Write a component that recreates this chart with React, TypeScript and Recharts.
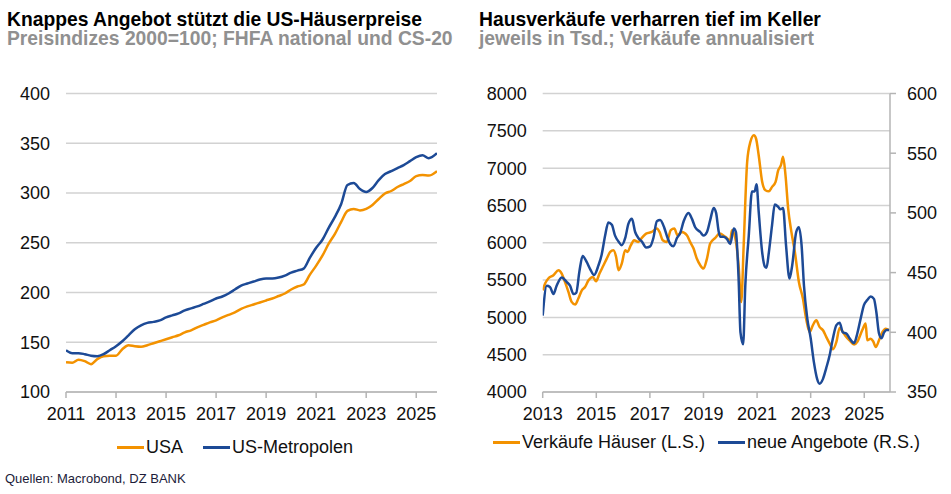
import React from "react";
import { LineChart, Line, XAxis, YAxis, CartesianGrid } from "recharts";

const FONT = "Arial, 'Liberation Sans', sans-serif";
const ORANGE = "#F39200";
const BLUE = "#1D4A96";
const GRID = "#d2d2d2";
const AXIS = "#b4b4b4";

// --- left chart: price indices (quarterly, 2000=100) ---
const priceDates = [
  2011, 2011.25, 2011.5, 2011.75, 2012, 2012.25, 2012.5, 2012.75,
  2013, 2013.25, 2013.5, 2013.75, 2014, 2014.25, 2014.5, 2014.75,
  2015, 2015.25, 2015.5, 2015.75, 2016, 2016.25, 2016.5, 2016.75,
  2017, 2017.25, 2017.5, 2017.75, 2018, 2018.25, 2018.5, 2018.75,
  2019, 2019.25, 2019.5, 2019.75, 2020, 2020.25, 2020.5, 2020.75,
  2021, 2021.25, 2021.5, 2021.75, 2022, 2022.25, 2022.5, 2022.75,
  2023, 2023.25, 2023.5, 2023.75, 2024, 2024.25, 2024.5, 2024.75,
  2025, 2025.25, 2025.5, 2025.83,
];
const usa = [
  130, 129.5, 132.5, 131, 128, 133, 136, 136.5,
  136.5, 143, 147, 146, 145.5, 147, 149, 151,
  153, 155, 157, 160, 162, 165, 167.5, 170,
  172, 175, 177.5, 180, 183.5, 186, 188, 190,
  192, 194, 196.5, 199, 203, 206, 208, 218,
  227, 237, 249, 259, 271, 282, 284, 282.5,
  284, 288, 294, 299.5, 302, 306, 309, 312,
  317, 318, 317.5, 322,
];
const metro = [
  142, 139, 139, 138, 136.5, 136, 138, 142,
  146, 151, 157, 163, 167, 169.5, 170.5, 172,
  175, 177, 179, 182, 184, 186, 188.5, 191,
  194, 196, 199, 203, 207, 209, 211, 213,
  214, 214, 215, 217, 220, 222, 224, 235,
  245, 253, 265, 276, 289, 308, 310, 304,
  301, 305, 313, 319, 322, 325, 328, 332,
  336, 338, 335, 340,
];
const priceXTicks = [2011, 2013, 2015, 2017, 2019, 2021, 2023, 2025];
const priceYTicks = [100, 150, 200, 250, 300, 350, 400];

// --- right chart: home sales (L.S.) and new listings (R.S.) ---
const salesDates = [
  2013.0, 2013.09, 2013.21, 2013.4, 2013.59, 2013.71, 2013.83, 2013.96,
  2014.08, 2014.21, 2014.33, 2014.46, 2014.58, 2014.71, 2014.87, 2014.99,
  2015.12, 2015.27, 2015.39, 2015.52, 2015.64, 2015.74, 2015.83, 2015.95,
  2016.08, 2016.16, 2016.29, 2016.41, 2016.57, 2016.7, 2016.86,
  2017.07, 2017.26, 2017.36, 2017.48, 2017.63, 2017.78, 2017.91,
  2018.03, 2018.19, 2018.38, 2018.5, 2018.63, 2018.75, 2018.88,
  2019.0, 2019.13, 2019.25, 2019.44, 2019.6, 2019.82,
  2020.0, 2020.06, 2020.19, 2020.31, 2020.41, 2020.5, 2020.63, 2020.75, 2020.88, 2020.96,
  2021.06, 2021.19, 2021.31, 2021.44, 2021.56, 2021.69, 2021.79, 2021.89, 2021.97,
  2022.06, 2022.16, 2022.28, 2022.41, 2022.56, 2022.71, 2022.83, 2022.96,
  2023.08, 2023.21, 2023.33, 2023.46, 2023.58, 2023.71, 2023.83, 2023.96,
  2024.08, 2024.2, 2024.33, 2024.45, 2024.62, 2024.74, 2024.87, 2024.95,
  2025.05, 2025.11, 2025.24, 2025.33, 2025.43, 2025.55, 2025.68, 2025.8, 2025.93,
];
const sales = [
  5363, 5453, 5520, 5564, 5631, 5587, 5475, 5341,
  5207, 5171, 5252, 5363, 5408, 5497, 5542, 5484,
  5587, 5698, 5788, 5877, 5900, 5810, 5631, 5721,
  5900, 5877, 5967, 6034, 6011, 6065, 6123,
  6145, 6190, 6145, 6034, 6011, 6168, 6190,
  6101, 6145, 6101, 6011, 5922, 5788, 5698,
  5654, 5788, 5989, 6065, 6123, 6078,
  6034, 6168, 6056, 5698, 5207, 5967, 7084, 7352, 7441, 7397,
  7173, 6816, 6704, 6690, 6749, 6816, 6972, 7039, 7151,
  6905, 6458, 6145, 5877, 5475, 5252, 4983, 4805,
  4894, 4961, 4872, 4827, 4738, 4648, 4572, 4671,
  4858, 4805, 4738, 4693, 4635, 4671, 4782, 4849,
  4917, 4693, 4715, 4680, 4604, 4693, 4805, 4849, 4827,
];
const listingDates = [
  2013.0, 2013.15, 2013.27, 2013.4, 2013.52, 2013.71, 2013.9,
  2014.02, 2014.15, 2014.25, 2014.37, 2014.49, 2014.64, 2014.77, 2014.92,
  2015.08, 2015.2, 2015.33, 2015.45, 2015.58, 2015.7, 2015.83, 2015.95,
  2016.08, 2016.2, 2016.33, 2016.45, 2016.57, 2016.7, 2016.86,
  2017.01, 2017.13, 2017.26, 2017.38, 2017.53, 2017.63, 2017.76, 2017.88,
  2018.01, 2018.13, 2018.26, 2018.44, 2018.57, 2018.69, 2018.88,
  2019.0, 2019.13, 2019.25, 2019.38, 2019.47, 2019.57, 2019.63, 2019.75, 2019.88,
  2020.0, 2020.13, 2020.21, 2020.31, 2020.38, 2020.48, 2020.56, 2020.69, 2020.81, 2020.91, 2020.98,
  2021.06, 2021.19, 2021.29, 2021.35, 2021.44, 2021.56, 2021.66, 2021.79, 2021.87, 2021.97,
  2022.08, 2022.21, 2022.31, 2022.46, 2022.56, 2022.66, 2022.75, 2022.87,
  2023.0, 2023.12, 2023.24, 2023.33, 2023.46, 2023.58, 2023.71, 2023.83, 2023.96,
  2024.08, 2024.2, 2024.33, 2024.45, 2024.62, 2024.74, 2024.87, 2024.99,
  2025.11, 2025.24, 2025.36, 2025.45, 2025.55, 2025.64, 2025.74, 2025.83, 2025.93,
];
const listings = [
  414, 439, 438, 432, 439, 446, 442,
  439, 432, 433, 451, 464, 459, 453, 448,
  456, 465, 481, 492, 490, 481, 476, 473,
  479, 491, 495, 484, 479, 476, 471,
  472, 479, 493, 494, 488, 481, 474, 472,
  479, 483, 493, 500, 495, 488, 484,
  481, 484, 494, 504, 500, 484, 480, 480, 478,
  474, 487, 484, 445, 400, 390, 439, 481, 518, 518, 524,
  501, 467, 455, 454, 467, 490, 507, 505, 503, 504,
  473, 445, 456, 484, 488, 473, 439, 412,
  395, 375, 361, 357, 361, 370, 381, 395, 406,
  408, 400, 399, 395, 391, 399, 412, 423,
  427, 430, 428, 417, 399, 395, 400, 402, 402,
];
const salesXTicks = [2013, 2015, 2017, 2019, 2021, 2023, 2025];
const salesYTicks = [4000, 4500, 5000, 5500, 6000, 6500, 7000, 7500, 8000];
const listingYTicks = [350, 400, 450, 500, 550, 600];

const priceData = priceDates.map((t, i) => ({ t, usa: usa[i], metro: metro[i] }));
const salesData = salesDates.map((t, i) => ({ t, v: sales[i] }));
const listingData = listingDates.map((t, i) => ({ t, v: listings[i] }));

const tickStyle = { fill: "#111", fontSize: 18, fontFamily: FONT };

function LegendItem({ x, y, color, label }: { x: number; y: number; color: string; label: string }) {
  return (
    <div style={{ position: "absolute", left: x, top: y - 11, height: 22, display: "flex", alignItems: "center" }}>
      <div style={{ width: 27, height: 3, background: color, marginRight: 2 }} />
      <span style={{ fontSize: 18, lineHeight: "22px", color: "#111", whiteSpace: "nowrap" }}>{label}</span>
    </div>
  );
}

const titleStyle: React.CSSProperties = { position: "absolute", fontSize: 19.3, lineHeight: "19px", fontWeight: 700, whiteSpace: "nowrap" };

export default function App() {
  return (
    <div style={{ position: "absolute", left: 0, top: 0, width: 951, height: 494, background: "#fff", fontFamily: FONT, overflow: "hidden" }}>
      {/* titles */}
      <div style={{ ...titleStyle, left: 7, top: 9.5, color: "#000" }}>Knappes Angebot stützt die US-Häuserpreise</div>
      <div style={{ ...titleStyle, left: 7, top: 29, color: "#909090" }}>Preisindizes 2000=100; FHFA national und CS-20</div>
      <div style={{ ...titleStyle, left: 479, top: 9.5, color: "#000" }}>Hausverkäufe verharren tief im Keller</div>
      <div style={{ ...titleStyle, left: 479, top: 29, color: "#909090" }}>jeweils in Tsd.; Verkäufe annualisiert</div>

      {/* left chart */}
      <div style={{ position: "absolute", left: 0, top: 0 }}>
        <LineChart width={475} height={430} data={priceData} margin={{ top: 93.5, right: 38, bottom: 0, left: 0 }}>
          <CartesianGrid vertical={false} stroke={GRID} strokeWidth={1.5} />
          <XAxis
            dataKey="t"
            type="number"
            domain={[2011, 2025.83]}
            ticks={priceXTicks}
            allowDataOverflow
            height={38}
            axisLine={{ stroke: AXIS, strokeWidth: 1.5 }}
            tickLine={{ stroke: AXIS, strokeWidth: 1.5 }}
            tickSize={6}
            tickMargin={9}
            tick={tickStyle}
          />
          <YAxis
            type="number"
            domain={[100, 400]}
            ticks={priceYTicks}
            width={66}
            axisLine={false}
            tickLine={false}
            tickSize={0}
            tickMargin={16}
            tick={tickStyle}
          />
          <Line type="monotone" dataKey="usa" stroke={ORANGE} strokeWidth={2.5} dot={false} isAnimationActive={false} />
          <Line type="monotone" dataKey="metro" stroke={BLUE} strokeWidth={2.5} dot={false} isAnimationActive={false} />
        </LineChart>
      </div>

      {/* right chart */}
      <div style={{ position: "absolute", left: 475, top: 0 }}>
        <LineChart width={476} height={430} margin={{ top: 93.5, right: 0, bottom: 0, left: 0 }}>
          <CartesianGrid vertical={false} yAxisId="l" stroke={GRID} strokeWidth={1.5} />
          <XAxis
            dataKey="t"
            type="number"
            domain={[2013, 2025.96]}
            ticks={salesXTicks}
            allowDataOverflow
            height={38}
            axisLine={{ stroke: AXIS, strokeWidth: 1.5 }}
            tickLine={{ stroke: AXIS, strokeWidth: 1.5 }}
            tickSize={6}
            tickMargin={9}
            tick={tickStyle}
          />
          <YAxis
            yAxisId="l"
            orientation="left"
            type="number"
            domain={[4000, 8000]}
            ticks={salesYTicks}
            width={67.7}
            axisLine={false}
            tickLine={false}
            tickSize={0}
            tickMargin={16}
            tick={tickStyle}
          />
          <YAxis
            yAxisId="r"
            orientation="right"
            type="number"
            domain={[350, 600]}
            ticks={listingYTicks}
            width={61}
            axisLine={{ stroke: AXIS, strokeWidth: 1.5 }}
            tickLine={{ stroke: AXIS, strokeWidth: 1.5 }}
            tickSize={6}
            tickMargin={11}
            tick={tickStyle}
          />
          <Line yAxisId="l" data={salesData} type="monotone" dataKey="v" stroke={ORANGE} strokeWidth={2.5} dot={false} isAnimationActive={false} />
          <Line yAxisId="r" data={listingData} type="monotone" dataKey="v" stroke={BLUE} strokeWidth={2.5} dot={false} isAnimationActive={false} />
        </LineChart>
      </div>

      {/* legends */}
      <LegendItem x={117} y={447} color={ORANGE} label="USA" />
      <LegendItem x={203} y={447} color={BLUE} label="US-Metropolen" />
      <LegendItem x={493} y={442} color={ORANGE} label="Verkäufe Häuser (L.S.)" />
      <LegendItem x={718} y={442} color={BLUE} label="neue Angebote (R.S.)" />

      <div style={{ position: "absolute", left: 5, top: 472, fontSize: 13, lineHeight: "13px", color: "#1c1c3a", whiteSpace: "nowrap" }}>
        Quellen: Macrobond, DZ BANK
      </div>
    </div>
  );
}
